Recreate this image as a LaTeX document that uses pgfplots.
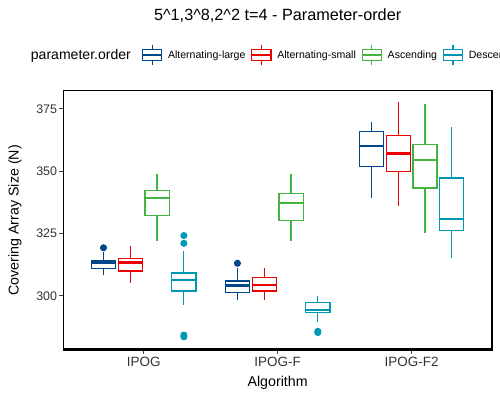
\documentclass[border=0pt]{standalone}
\usepackage{fontspec}
\setmainfont{Liberation Sans}
\usepackage{pgfplots}
\pgfplotsset{compat=1.18}
\usepgfplotslibrary{statistics}

\definecolor{cA}{HTML}{00468B}
\definecolor{cB}{HTML}{ED0000}
\definecolor{cC}{HTML}{42B540}
\definecolor{cD}{HTML}{0099B4}

\pgfplotsset{
  bx/.style={
    draw=#1, fill=white, line width=1.2bp, solid,
    mark=*, mark size=2.9bp, mark options={draw=#1, fill=#1, solid},
    boxplot/every median/.style={line width=2.5bp},
    legend image code/.code={
      \draw[#1, line width=1.2bp] (0bp,-10.3bp) -- (0bp,10.3bp);
      \draw[#1, line width=1.2bp, fill=white] (-9.6bp,-5.4bp) rectangle (9.6bp,5.4bp);
      \draw[#1, line width=1.2bp] (-9.6bp,0bp) -- (9.6bp,0bp);
    },
  },
}

\begin{document}
\begin{tikzpicture}
\begin{axis}[
    at={(63.3bp,50.5bp)}, anchor=south west,
    scale only axis,
    width=428.7bp, height=258.5bp,
    xmin=0.4, xmax=3.6,
    ymin=278.5, ymax=382.2,
    boxplot/draw direction=y,
    xtick={1,2,3},
    xticklabels={IPOG,IPOG-F,IPOG-F2},
    ytick={300,325,350,375},
    minor tick num=0,
    tick pos=left,
    tick align=outside,
    major tick length=4bp,
    tick style={black!75, line width=1bp},
    axis line style={black, line width=1bp},
    /pgf/number format/assume math mode=true,
    ticklabel style={text=black!80},
    yticklabel style={anchor=east, inner sep=0pt, xshift=-2bp, font=\fontsize{12.5}{12.5}\selectfont},
    xticklabel style={anchor=north, inner sep=0pt, yshift=-3bp, font=\fontsize{13.5}{13.5}\selectfont},
    xlabel={Algorithm},
    ylabel={Covering Array Size (N)},
    label style={font=\fontsize{14.3}{14.3}\selectfont},
    xlabel style={at={(axis description cs:0.5,-0.1439)}, anchor=base},
    ylabel style={at={(axis description cs:-0.104,0.5)}, anchor=base},
    title={5\textasciicircum 1,3\textasciicircum 8,2\textasciicircum 2 t=4 - Parameter-order},
    every axis title shift=0pt,
    title style={at={(axis description cs:0.5,1.2708)}, anchor=base, font=\fontsize{16.3}{16.3}\selectfont},
    legend columns=-1,
    legend style={at={(axis description cs:0.1829,1.1393)}, anchor=west,
      draw=none, fill=none, inner sep=0pt, column sep=5.7bp,
      cells={anchor=west},
      nodes={inner sep=0pt, font=\fontsize{10.6}{10.6}\selectfont}},
    extra description/.code={
      \node[anchor=base west, inner sep=0pt, font=\fontsize{14.1}{14.1}\selectfont]
        at (-0.076,1.12) {parameter.order};
    },
    after end axis/.code={
      \draw[black, line width=2bp] (rel axis cs:0,0) -- (rel axis cs:1,0) -- (rel axis cs:1,1);
    },
]
% IPOG
\addplot[bx=cA, boxplot prepared={draw position=0.7, lower whisker=308.3, lower quartile=311.1, median=313.4, upper quartile=314.2, upper whisker=317.5, box extend=0.18, whisker extend=0}]
  table[row sep=\\, y index=0] {v\\ 319.3\\};
\addlegendentry{Alternating-large}
\addplot[bx=cB, boxplot prepared={draw position=0.9, lower whisker=305.3, lower quartile=310.0, median=313.4, upper quartile=315.1, upper whisker=320.1, box extend=0.18, whisker extend=0}]
  coordinates {};
\addlegendentry{Alternating-small}
\addplot[bx=cC, boxplot prepared={draw position=1.1, lower whisker=322.2, lower quartile=332.1, median=339.2, upper quartile=342.4, upper whisker=348.9, box extend=0.18, whisker extend=0}]
  coordinates {};
\addlegendentry{Ascending}
\addplot[bx=cD, boxplot prepared={draw position=1.3, lower whisker=296.3, lower quartile=302.0, median=306.3, upper quartile=309.2, upper whisker=318.1, box extend=0.18, whisker extend=0}]
  table[row sep=\\, y index=0] {v\\ 324.2\\ 321.1\\ 284.3\\ 283.6\\};
\addlegendentry{Descending}
% IPOG-F
\addplot[bx=cA, forget plot, boxplot prepared={draw position=1.7, lower whisker=298.3, lower quartile=301.3, median=304.1, upper quartile=306.0, upper whisker=311.1, box extend=0.18, whisker extend=0}]
  table[row sep=\\, y index=0] {v\\ 313.1\\};
\addplot[bx=cB, forget plot, boxplot prepared={draw position=1.9, lower whisker=298.3, lower quartile=302.0, median=304.3, upper quartile=307.3, upper whisker=311.1, box extend=0.18, whisker extend=0}]
  coordinates {};
\addplot[bx=cC, forget plot, boxplot prepared={draw position=2.1, lower whisker=322.2, lower quartile=330.1, median=337.2, upper quartile=341.2, upper whisker=348.9, box extend=0.18, whisker extend=0}]
  coordinates {};
\addplot[bx=cD, forget plot, boxplot prepared={draw position=2.3, lower whisker=289.4, lower quartile=293.2, median=294.3, upper quartile=297.3, upper whisker=300.0, box extend=0.18, whisker extend=0}]
  table[row sep=\\, y index=0] {v\\ 285.8\\ 285.3\\};
% IPOG-F2
\addplot[bx=cA, forget plot, boxplot prepared={draw position=2.7, lower whisker=339.2, lower quartile=352.0, median=360.2, upper quartile=366.1, upper whisker=369.9, box extend=0.18, whisker extend=0}]
  coordinates {};
\addplot[bx=cB, forget plot, boxplot prepared={draw position=2.9, lower whisker=336.2, lower quartile=349.9, median=357.2, upper quartile=364.3, upper whisker=377.9, box extend=0.18, whisker extend=0}]
  coordinates {};
\addplot[bx=cC, forget plot, boxplot prepared={draw position=3.1, lower whisker=325.3, lower quartile=343.3, median=354.6, upper quartile=360.8, upper whisker=376.9, box extend=0.18, whisker extend=0}]
  coordinates {};
\addplot[bx=cD, forget plot, boxplot prepared={draw position=3.3, lower whisker=315.4, lower quartile=326.2, median=330.8, upper quartile=347.3, upper whisker=367.9, box extend=0.18, whisker extend=0}]
  coordinates {};
\end{axis}
\pgfresetboundingbox
\useasboundingbox (0,0) rectangle (500bp,400bp);
\end{tikzpicture}
\end{document}
